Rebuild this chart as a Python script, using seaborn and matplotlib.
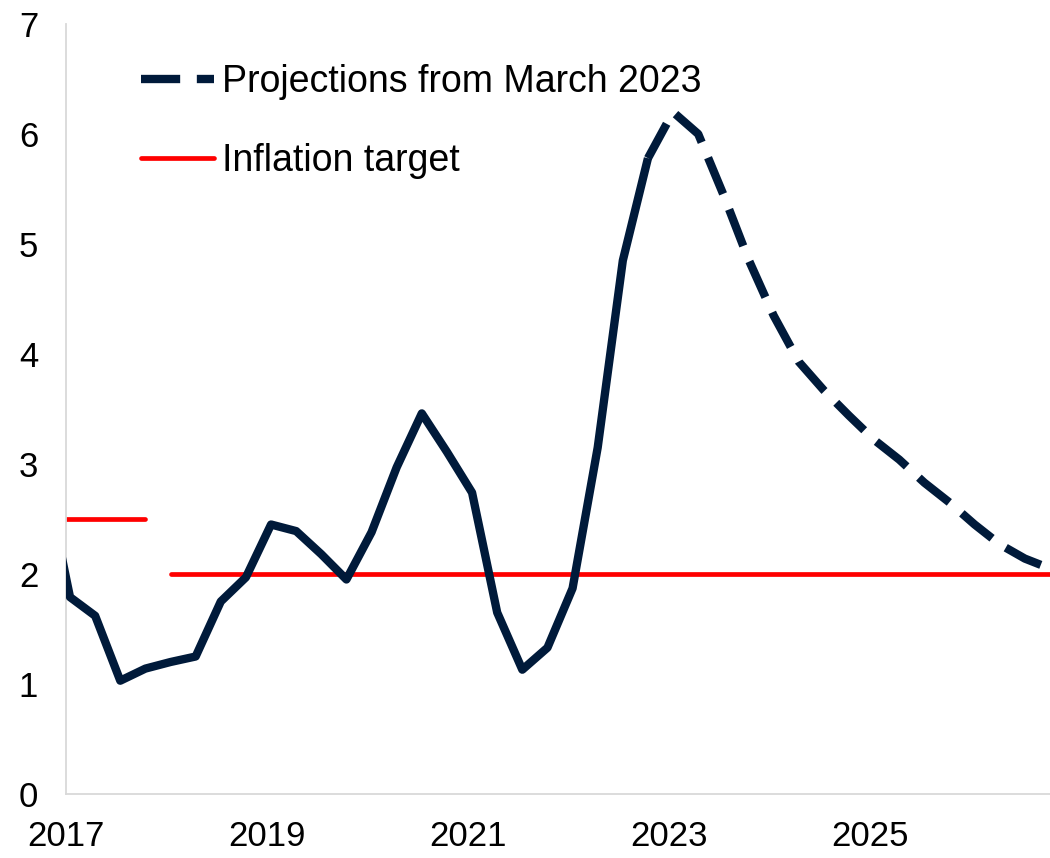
import matplotlib
matplotlib.use("Agg")
import numpy as np
import pandas as pd
import matplotlib.pyplot as plt
import seaborn as sns

# quarterly CPI-ATE style series
hist_periods = ("2016Q4", "2022Q4")
history = [2.9, 1.79, 1.62, 1.03, 1.14, 1.20, 1.25, 1.75, 1.97,
           2.45, 2.39, 2.18, 1.95, 2.38, 2.97, 3.46, 3.11,
           2.74, 1.65, 1.13, 1.33, 1.87, 3.15, 4.85, 5.78]

proj_periods = ("2022Q4", "2026Q4")
projection = [5.78, 6.20, 6.00, 5.45, 4.86, 4.35, 3.93, 3.67, 3.44,
              3.22, 3.04, 2.83, 2.65, 2.45, 2.27, 2.14, 2.05]

target_periods = [("2016Q4", "2017Q4"), ("2018Q1", "2026Q4")]
target_levels = [2.5, 2.0]

year_ticks = [2017, 2019, 2021, 2023, 2025]
y_ticks = [0, 1, 2, 3, 4, 5, 6, 7]

navy = "#001A3A"
red = "#FF0000"


def to_x(start, end):
    p = pd.period_range(start, end, freq="Q")
    return p.year + (p.quarter - 1) / 4 + 0.04


sns.set_theme(style="white")
plt.rcParams["font.family"] = ["Liberation Sans", "DejaVu Sans"]

fig = plt.figure(figsize=(10.5, 8.58), dpi=100)
ax = fig.add_axes([66 / 1050, 1 - 794 / 858, 1 - 66 / 1050, (794 - 24) / 858])

hist_df = pd.DataFrame({"x": to_x(*hist_periods), "y": history})
proj_df = pd.DataFrame({"x": to_x(*proj_periods), "y": projection})

for i, ((s, e), lvl) in enumerate(zip(target_periods, target_levels)):
    xs = to_x(s, e)
    tdf = pd.DataFrame({"x": xs, "y": [lvl] * len(xs)})
    sns.lineplot(data=tdf, x="x", y="y", ax=ax, color=red, linewidth=3.4,
                 solid_capstyle="round", zorder=2,
                 label="Inflation target" if i == 0 else "_nolegend_")

sns.lineplot(data=hist_df, x="x", y="y", ax=ax, color=navy, linewidth=6,
             solid_capstyle="butt", zorder=3, label="_nolegend_")
sns.lineplot(data=proj_df, x="x", y="y", ax=ax, color=navy, linewidth=6,
             linestyle=(0, (4.7, 2.0)), dash_capstyle="butt", zorder=3,
             label="Projections from March 2023")

ax.set_xlim(2017, 2026.79)
ax.set_ylim(0, 7)
ax.set_xticks(year_ticks)
ax.set_xticklabels([str(y) for y in year_ticks])
ax.set_yticks(y_ticks)
ax.set_xlabel("")
ax.set_ylabel("")

for side in ["top", "right"]:
    ax.spines[side].set_visible(False)
for side in ["left", "bottom"]:
    ax.spines[side].set_color("#D9D9D9")
    ax.spines[side].set_linewidth(1.3)

ax.tick_params(axis="both", direction="in", length=11, width=1.1,
               color="#D9D9D9", labelsize=25, labelcolor="black")
ax.tick_params(axis="y", pad=20)
ax.tick_params(axis="x", pad=19)

handles, labels = ax.get_legend_handles_labels()
order = [labels.index("Projections from March 2023"), labels.index("Inflation target")]
ax.legend([handles[k] for k in order], [labels[k] for k in order],
          loc="upper left", bbox_to_anchor=(0.042, 0.992), frameon=False,
          fontsize=27, handlelength=1.95, handletextpad=0.2, labelspacing=1.15,
          labelcolor="black")

fig.savefig("out.png", dpi=100)
